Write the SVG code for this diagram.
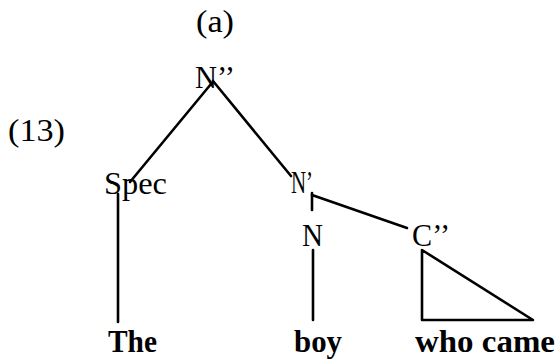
<svg xmlns="http://www.w3.org/2000/svg" width="556" height="360" viewBox="0 0 556 360">
<style>
text{font-family:"Liberation Serif","Times New Roman",serif;fill:#000;font-size:31px}
.b{font-weight:bold}
.e{stroke:#000;stroke-width:2.6;fill:none;stroke-linecap:round;stroke-linejoin:round}
</style>
<rect width="556" height="360" fill="#fff"/>
<text x="196" y="32" textLength="38" lengthAdjust="spacingAndGlyphs">(a)</text>
<text x="8" y="141" textLength="57" lengthAdjust="spacingAndGlyphs">(13)</text>
<g id="connectors">
<line class="e" x1="211" y1="84" x2="130" y2="182"/>
<line class="e" x1="213" y1="81" x2="291" y2="176"/>
<line class="e" x1="118" y1="194" x2="118" y2="322"/>
<line class="e" x1="312" y1="193" x2="312" y2="210"/>
<line class="e" x1="312" y1="195" x2="407" y2="228"/>
<line class="e" x1="313" y1="250" x2="313" y2="320"/>
<polygon class="e" points="422,250 422,320 533,320"/>
</g>
<g id="nNbar2"><text x="195" y="88" textLength="40" lengthAdjust="spacingAndGlyphs">N’’</text></g>
<g id="nSpec"><text x="104" y="194" textLength="63" lengthAdjust="spacingAndGlyphs">Spec</text></g>
<g id="nNbar"><text x="291" y="193" textLength="22" lengthAdjust="spacingAndGlyphs">N’</text></g>
<g id="nN"><text x="302" y="246" textLength="21" lengthAdjust="spacingAndGlyphs">N</text></g>
<g id="nC2"><text x="412" y="246" textLength="38" lengthAdjust="spacingAndGlyphs">C’’</text></g>
<g id="lThe"><text class="b" x="108" y="352" textLength="49" lengthAdjust="spacingAndGlyphs">The</text></g>
<g id="lboy"><text class="b" x="294" y="352" textLength="48" lengthAdjust="spacingAndGlyphs">boy</text></g>
<g id="lwho"><text class="b" x="415" y="352" textLength="140" lengthAdjust="spacingAndGlyphs">who came</text></g>
</svg>
